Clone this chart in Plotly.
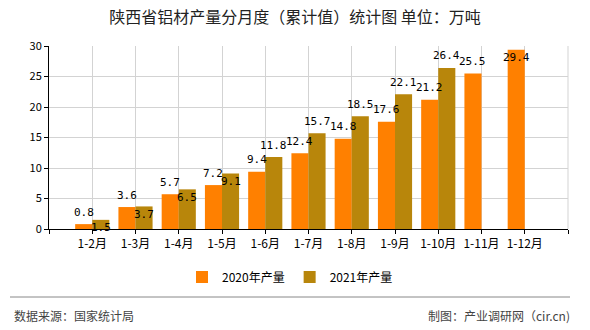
import plotly.graph_objects as go

# ---- data ----
months = ["1-2月", "1-3月", "1-4月", "1-5月", "1-6月", "1-7月", "1-8月",
          "1-9月", "1-10月", "1-11月", "1-12月"]
prod_2020 = [0.8, 3.6, 5.7, 7.2, 9.4, 12.4, 14.8, 17.6, 21.2, 25.5, 29.4]
prod_2021 = [1.5, 3.7, 6.5, 9.1, 11.8, 15.7, 18.5, 22.1, 26.4, None, None]
y_ticks = [0, 5, 10, 15, 20, 25, 30]

# ---- style ----
c2020 = "#FF8000"
c2021 = "#B8860B"
bargap = 0.21
label_dy_2020 = [12, 12, 12, 12, 12, 12, 12, 12, 12, 12, -8]
label_dy_2021 = [-8, -8, -8, -8, 12, 12, 12, 12, 12, 0, 0]
cjk = "Noto Sans CJK SC"
mono = "DejaVu Sans Mono"

# plot-area pixel geometry (for paper-coordinate decorations)
L, T, W, H = 49, 46, 519, 183


def px_x(p):
    return (p - L) / W


def px_y(p):
    return (T + H - p) / H


xpos = list(range(1, len(months) + 1))
half = (1 - bargap) / 4  # centre offset of each bar in a two-bar group

fig = go.Figure()
fig.add_trace(go.Bar(name="2020年产量", x=xpos, y=prod_2020, marker_color=c2020,
                     marker_line_width=0))
fig.add_trace(go.Bar(name="2021年产量", x=xpos, y=prod_2021, marker_color=c2021,
                     marker_line_width=0))

annotations = []
for xi, v, dy in zip(xpos, prod_2020, label_dy_2020):
    if v is not None:
        annotations.append(dict(x=xi - half, y=v, xref="x", yref="y", text=f"{v}",
                                showarrow=False, yshift=dy, yanchor="middle",
                                font=dict(family=mono, size=11, color="#000")))
for xi, v, dy in zip(xpos, prod_2021, label_dy_2021):
    if v is not None:
        annotations.append(dict(x=xi + half, y=v, xref="x", yref="y", text=f"{v}",
                                showarrow=False, yshift=dy, yanchor="middle",
                                font=dict(family=mono, size=11, color="#000")))

annotations.append(dict(x=px_x(12), y=px_y(315), xref="paper", yref="paper",
                        text="数据来源：国家统计局", showarrow=False, xanchor="left",
                        yanchor="middle", font=dict(family=cjk, size=12, color="#444")))
annotations.append(dict(x=px_x(572), y=px_y(315), xref="paper", yref="paper",
                        text="制图：产业调研网（cir.cn)", showarrow=False, xanchor="right",
                        yanchor="middle", font=dict(family=cjk, size=12, color="#444")))

fig.update_layout(
    width=590, height=330,
    margin=dict(l=L, r=590 - L - W, t=T, b=330 - T - H, autoexpand=False),
    paper_bgcolor="white", plot_bgcolor="white",
    barmode="group", bargap=bargap, bargroupgap=0,
    title=dict(text="陕西省铝材产量分月度（累计值）统计图 单位：万吨",
               x=0.5, xref="container", xanchor="center",
               y=1 - 17 / 330, yref="container", yanchor="middle",
               font=dict(family=cjk, size=16, color="#222")),
    legend=dict(orientation="h", x=290 / 590, xref="container", xanchor="center",
                y=1 - 277 / 330, yref="container", yanchor="middle",
                font=dict(family=cjk, size=12, color="#000"),
                itemwidth=30, itemsizing="constant"),
    annotations=annotations,
    shapes=[dict(type="line", xref="paper", yref="paper",
                 x0=px_x(10), x1=px_x(570), y0=px_y(297), y1=px_y(297),
                 line=dict(color="#888", width=1)),
            dict(type="line", xref="paper", yref="paper", x0=1, x1=1, y0=0, y1=1,
                 line=dict(color="#d3d3d3", width=1))],
    font=dict(family=cjk),
)
fig.update_xaxes(range=[0, len(months) + 1], tickmode="array",
                 tickvals=list(range(0, len(months) + 2)),
                 ticktext=[""] + months + [""],
                 showgrid=True, gridcolor="#d3d3d3", gridwidth=1,
                 showline=True, linecolor="#000", linewidth=1,
                 ticks="outside", ticklen=4, tickcolor="#000",
                 tickfont=dict(family=cjk, size=12, color="#000"), zeroline=False)
fig.update_yaxes(range=[0, 30], tickvals=y_ticks,
                 showgrid=True, gridcolor="#d3d3d3", gridwidth=1,
                 showline=True, linecolor="#000", linewidth=1,
                 ticks="outside", ticklen=4, tickcolor="#000",
                 tickfont=dict(family=cjk, size=11, color="#000"), zeroline=False)

fig.write_html("out.html")
